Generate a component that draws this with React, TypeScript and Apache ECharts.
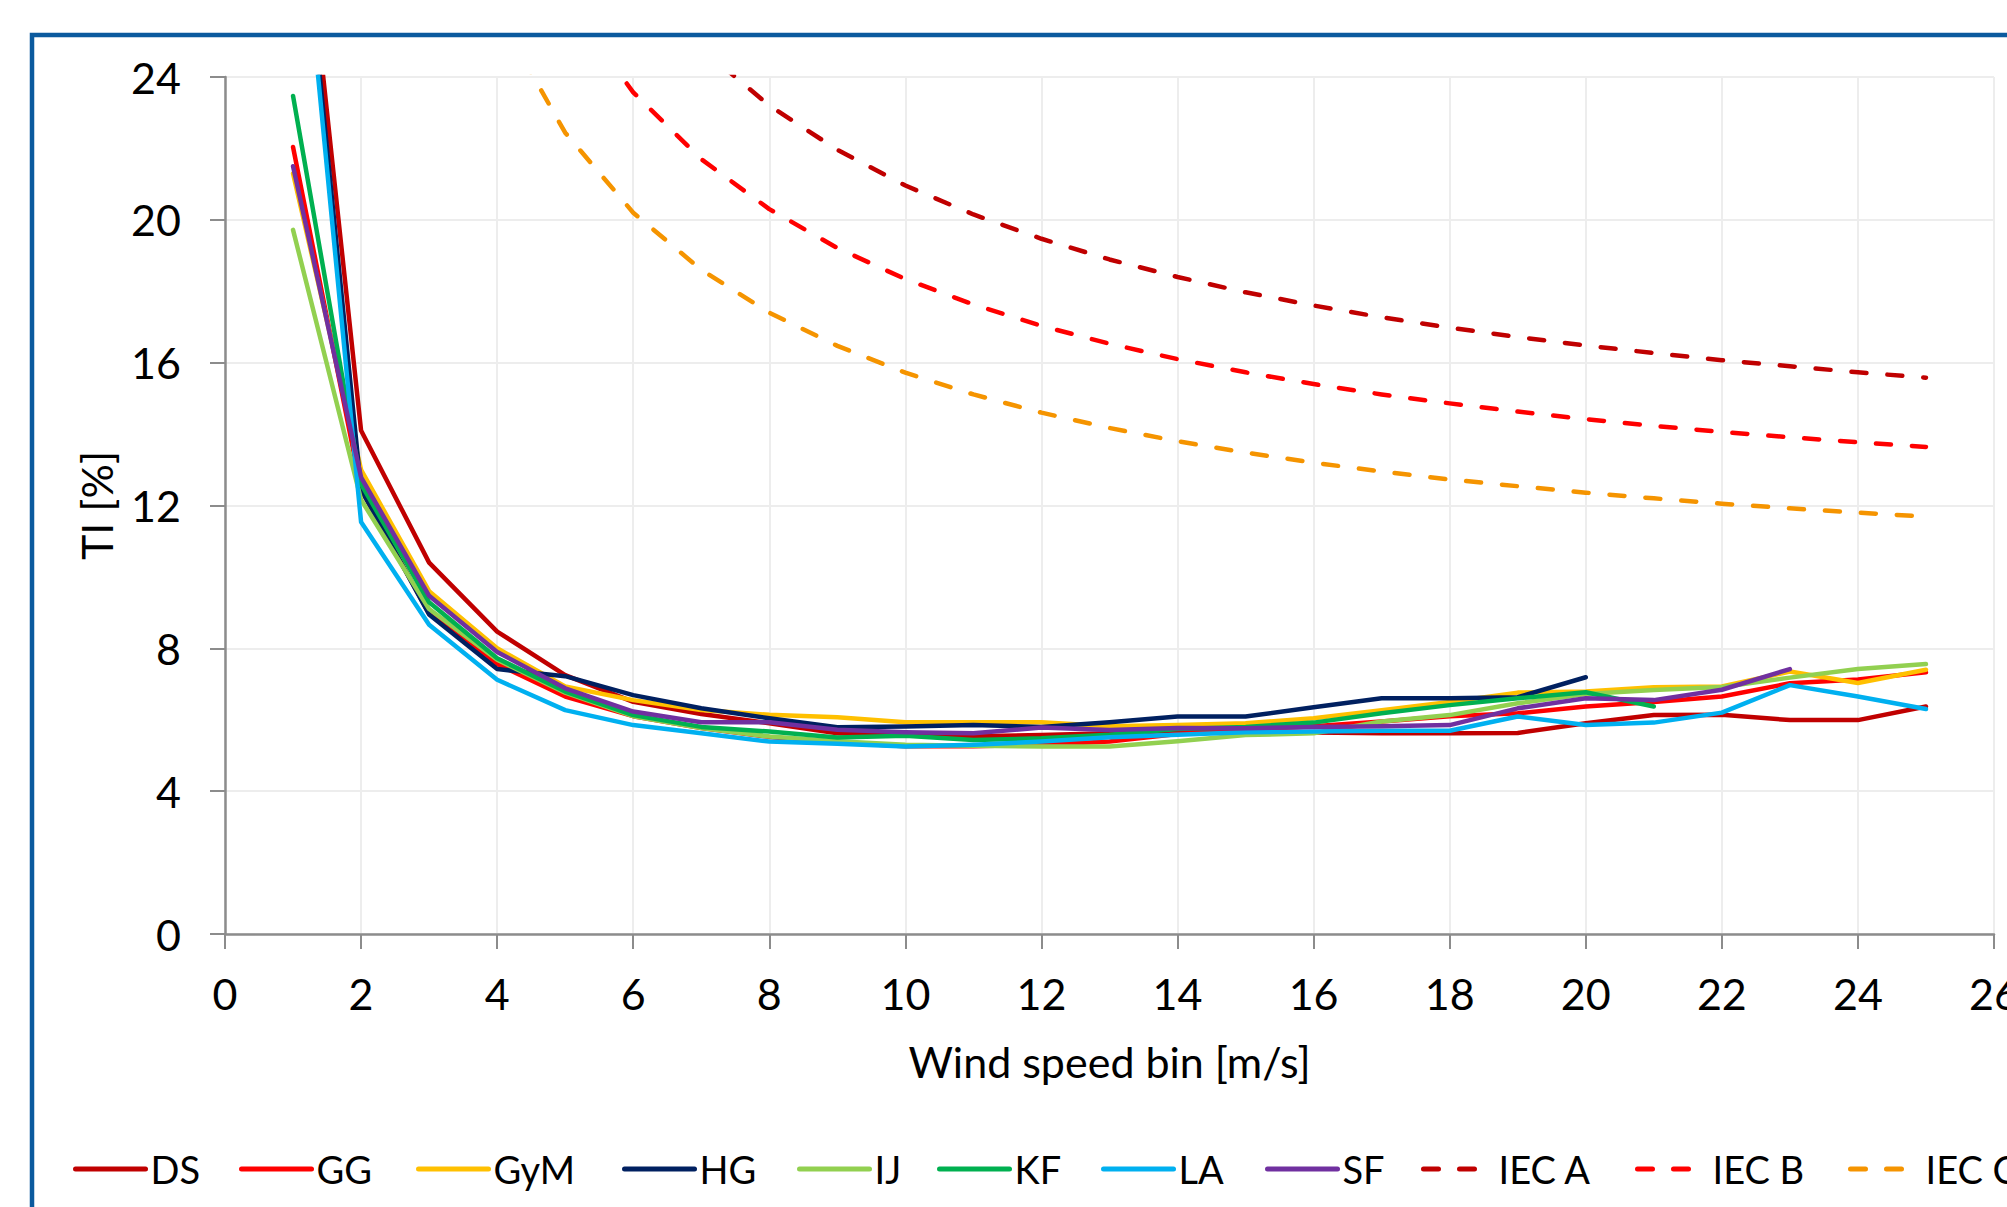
import React, { useEffect, useRef } from "react";
import * as echarts from "echarts";

// ---- data ----
const windSpeed = [1, 2, 3, 4, 5, 6, 7, 8, 9, 10, 11, 12, 13, 14, 15, 16, 17, 18, 19, 20, 21, 22, 23, 24, 25];
const xTicks = { min: 0, max: 26, interval: 2 };
const yTicks = { min: 0, max: 24, interval: 4 };

const DS = [31.9, 14.1, 10.4, 8.47, 7.25, 6.5, 6.16, 5.9, 5.62, 5.57, 5.54, 5.57, 5.62, 5.69, 5.69, 5.64, 5.62, 5.62, 5.63, 5.9, 6.13, 6.14, 5.99, 5.99, 6.37];
const GG = [22.04, 12.45, 8.97, 7.56, 6.65, 6.1, 5.77, 5.52, 5.36, 5.26, 5.26, 5.3, 5.39, 5.6, 5.72, 5.82, 5.95, 6.1, 6.18, 6.37, 6.5, 6.65, 7.02, 7.13, 7.33];
const GyM = [21.3, 13.0, 9.6, 8.0, 6.93, 6.55, 6.27, 6.14, 6.07, 5.93, 5.93, 5.93, 5.82, 5.85, 5.9, 6.04, 6.27, 6.5, 6.76, 6.79, 6.91, 6.93, 7.35, 7.03, 7.4];
const HG = [31.5, 12.45, 8.95, 7.42, 7.22, 6.69, 6.32, 6.04, 5.79, 5.81, 5.85, 5.8, 5.93, 6.09, 6.09, 6.35, 6.6, 6.6, 6.63, 7.19];
const IJ = [19.72, 12.16, 9.1, 7.68, 6.76, 6.1, 5.77, 5.53, 5.4, 5.3, 5.27, 5.25, 5.25, 5.4, 5.57, 5.62, 5.95, 6.13, 6.46, 6.72, 6.83, 6.92, 7.18, 7.42, 7.56];
const KF = [23.47, 12.6, 9.29, 7.72, 6.79, 6.13, 5.8, 5.67, 5.5, 5.55, 5.43, 5.48, 5.58, 5.74, 5.8, 5.92, 6.18, 6.41, 6.6, 6.77, 6.37];
const LA = [31.3, 11.54, 8.66, 7.12, 6.27, 5.85, 5.62, 5.39, 5.33, 5.25, 5.3, 5.39, 5.51, 5.58, 5.65, 5.67, 5.69, 5.69, 6.09, 5.85, 5.92, 6.2, 6.97, 6.65, 6.3];
const SF = [21.5, 12.79, 9.47, 7.9, 6.88, 6.23, 5.93, 5.93, 5.72, 5.65, 5.62, 5.78, 5.71, 5.77, 5.76, 5.8, 5.82, 5.85, 6.32, 6.6, 6.55, 6.84, 7.42];
const IEC_A = [101.6, 56.8, 41.87, 34.4, 29.92, 26.93, 24.8, 23.2, 21.96, 20.96, 20.15, 19.47, 18.89, 18.4, 17.97, 17.6, 17.27, 16.98, 16.72, 16.48, 16.27, 16.07, 15.9, 15.73, 15.58];
const IEC_B = [88.9, 49.7, 36.63, 30.1, 26.18, 23.57, 21.7, 20.3, 19.21, 18.34, 17.63, 17.03, 16.53, 16.1, 15.73, 15.4, 15.11, 14.86, 14.63, 14.42, 14.23, 14.06, 13.91, 13.77, 13.64];
const IEC_C = [76.2, 42.6, 31.4, 25.8, 22.44, 20.2, 18.6, 17.4, 16.47, 15.72, 15.11, 14.6, 14.17, 13.8, 13.48, 13.2, 12.95, 12.73, 12.54, 12.36, 12.2, 12.05, 11.92, 11.8, 11.69];

const seriesNames = ["DS", "GG", "GyM", "HG", "IJ", "KF", "LA", "SF", "IEC A", "IEC B", "IEC C"];
const seriesValues = [DS, GG, GyM, HG, IJ, KF, LA, SF, IEC_A, IEC_B, IEC_C];
const seriesColors = ["#C00000", "#FF0000", "#FFC000", "#002060", "#92D050", "#00B050", "#00B0F0", "#7030A0", "#C00000", "#FF0000", "#F59400"];
const seriesDashed = [false, false, false, false, false, false, false, false, true, true, true];

const xTitle = "Wind speed bin [m/s]";
const yTitle = "TI [%]";

// ---- layout / style ----
const FONT = "Lato, 'Noto Sans', sans-serif";
const legendLeft = [73, 239, 416, 622, 797, 937, 1101, 1265, 1421, 1635, 1848];

export default function App() {
  const ref = useRef<HTMLDivElement>(null);

  useEffect(() => {
    document.body.style.margin = "0";
    document.body.style.overflow = "hidden";
    if (!ref.current) return;
    const chart = echarts.init(ref.current, null, { renderer: "svg" });

    const axisGray = "#8C8C8C";
    const gridGray = "#EDEDED";

    const series = seriesNames.map((name, i) => ({
      type: "line",
      name,
      data: seriesValues[i].map((v, k) => [windSpeed[k], v]),
      symbol: "none",
      showSymbol: false,
      clip: true,
      emphasis: { disabled: true },
      itemStyle: { color: seriesColors[i] },
      lineStyle: {
        color: seriesColors[i],
        width: 4.5,
        type: seriesDashed[i] ? [15, 21] : "solid",
        cap: "round",
        join: "round",
      },
      z: 2,
    }));

    const legends = seriesNames.map((name, i) => ({
      data: [name],
      left: legendLeft[i],
      top: 1146,
      padding: 0,
      itemWidth: 70,
      itemHeight: 20,
      itemGap: 0,
      selectedMode: false,
      textStyle: { fontSize: 38, color: "#000", fontFamily: FONT, lineHeight: 46 },
      itemStyle: { opacity: 0, borderWidth: 0 },
      lineStyle: { width: 5, opacity: 1 },
    }));

    chart.setOption({
      animation: false,
      backgroundColor: "#FFFFFF",
      textStyle: { fontFamily: FONT },
      grid: {
        left: 225,
        right: 13,
        top: 77,
        bottom: 273,
        containLabel: false,
        outerBoundsMode: "none",
      },
      xAxis: {
        type: "value",
        min: xTicks.min,
        max: xTicks.max,
        interval: xTicks.interval,
        axisLine: { show: true, onZero: false, lineStyle: { color: axisGray, width: 2.5 } },
        axisTick: { show: true, length: 15, lineStyle: { color: axisGray, width: 2 } },
        splitLine: { show: true, lineStyle: { color: gridGray, width: 2 } },
        axisLabel: { fontSize: 43, color: "#000", margin: 38, fontFamily: FONT, showMaxLabel: true, hideOverlap: false },
        name: xTitle,
        nameLocation: "middle",
        nameGap: 106,
        nameTextStyle: { fontSize: 43, color: "#000", fontFamily: FONT },
      },
      yAxis: {
        type: "value",
        min: yTicks.min,
        max: yTicks.max,
        interval: yTicks.interval,
        axisLine: { show: true, lineStyle: { color: axisGray, width: 2.5 } },
        axisTick: { show: true, length: 15, lineStyle: { color: axisGray, width: 2 } },
        splitLine: { show: true, lineStyle: { color: gridGray, width: 2 } },
        axisLabel: { fontSize: 43, color: "#000", margin: 44, fontFamily: FONT },
        name: yTitle,
        nameLocation: "middle",
        nameGap: 107,
        nameRotate: 90,
        nameTextStyle: { fontSize: 43, color: "#000", fontFamily: FONT },
      },
      legend: legends,
      graphic: [
        {
          type: "rect",
          silent: true,
          z: 0,
          shape: { x: 32, y: 35, width: 2200, height: 1400 },
          style: { fill: "none", stroke: "#0B5A9E", lineWidth: 4.5 },
        },
      ],
      series,
    });

    return () => chart.dispose();
  }, []);

  return <div ref={ref} style={{ width: 2007, height: 1207 }} />;
}
